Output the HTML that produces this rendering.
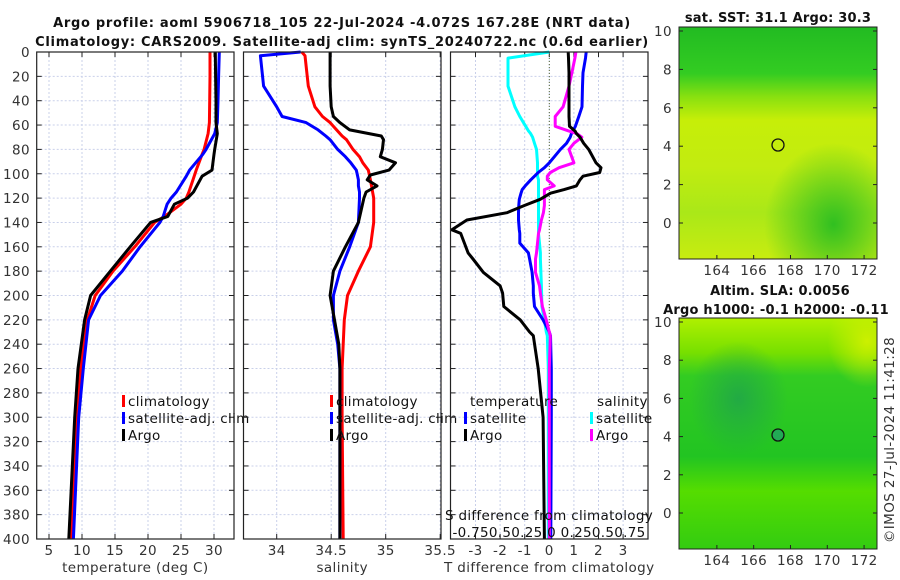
<!DOCTYPE html>
<html><head><meta charset="utf-8"><style>
html,body{margin:0;padding:0;background:#fff}
svg{display:block;font-family:"DejaVu Sans","Liberation Sans",sans-serif}
.tk{font-size:13.5px;fill:#333;letter-spacing:0.4px}
.tt{font-size:13px;font-weight:bold;fill:#111;letter-spacing:0.7px}
.mt{font-size:13px;font-weight:bold;fill:#111;letter-spacing:0.2px}
.lg{font-size:13.5px;fill:#111;letter-spacing:0.3px}
</style></head><body>
<svg id="fig" width="900" height="580" viewBox="0 0 900 580">
<defs>
<linearGradient id="sstG" x1="0" y1="0" x2="0" y2="1">
<stop offset="0" stop-color="#22bb22"/><stop offset="0.2" stop-color="#33cc22"/>
<stop offset="0.3" stop-color="#88e010"/><stop offset="0.4" stop-color="#c6ee08"/>
<stop offset="0.6" stop-color="#c2ec10"/><stop offset="0.8" stop-color="#aae818"/>
<stop offset="1" stop-color="#c8ec10"/></linearGradient>
<radialGradient id="sstB" cx="0.78" cy="0.85" r="0.35"><stop offset="0" stop-color="#22bb22" stop-opacity="0.9"/><stop offset="1" stop-color="#22bb22" stop-opacity="0"/></radialGradient>
<linearGradient id="slaG" x1="0" y1="0" x2="0" y2="1">
<stop offset="0" stop-color="#b0f000"/><stop offset="0.15" stop-color="#77e000"/>
<stop offset="0.25" stop-color="#33cc22"/><stop offset="0.6" stop-color="#22c422"/>
<stop offset="0.75" stop-color="#55dd00"/><stop offset="1" stop-color="#33cc11"/></linearGradient>
<radialGradient id="slaY" cx="0.95" cy="0.1" r="0.2"><stop offset="0" stop-color="#ccf000"/><stop offset="1" stop-color="#ccf000" stop-opacity="0"/></radialGradient>
<radialGradient id="slaD" cx="0.3" cy="0.35" r="0.25"><stop offset="0" stop-color="#22aa44"/><stop offset="1" stop-color="#22aa44" stop-opacity="0"/></radialGradient>
</defs>
<text class="tt" x="342" y="27" text-anchor="middle">Argo profile: aoml 5906718_105 22-Jul-2024 -4.072S 167.28E (NRT data)</text>
<text class="tt" x="342" y="46" text-anchor="middle">Climatology: CARS2009. Satellite-adj clim: synTS_20240722.nc (0.6d earlier)</text>
<g id="p1"></g>
<g id="p2"></g>
<g id="p3"></g>
<g>
<text class="mt" x="778" y="22" text-anchor="middle">sat. SST: 31.1 Argo: 30.3</text>
<rect x="679" y="27" width="198" height="232" fill="url(#sstG)"/>
<rect x="679" y="27" width="198" height="232" fill="url(#sstB)"/>
<rect x="679" y="27" width="198" height="232" fill="none" stroke="#222"/>
<circle cx="778" cy="145" r="6" fill="none" stroke="#111" stroke-width="1.3"/>
</g>
<g>
<text class="mt" x="780" y="295" text-anchor="middle">Altim. SLA: 0.0056</text>
<text class="mt" x="776" y="314" text-anchor="middle">Argo h1000: -0.1 h2000: -0.11</text>
<rect x="679" y="318" width="198" height="231" fill="url(#slaG)"/>
<rect x="679" y="318" width="198" height="231" fill="url(#slaD)"/>
<rect x="679" y="318" width="198" height="231" fill="url(#slaY)"/>
<rect x="679" y="318" width="198" height="231" fill="none" stroke="#222"/>
<circle cx="778" cy="435" r="6" fill="#22aa55" stroke="#111" stroke-width="1.3"/>
</g>
<g id="maxes"></g>
<text class="tk" transform="translate(894,440) rotate(-90)" text-anchor="middle">©IMOS 27-Jul-2024 11:41:28</text>
</svg>
<script>
const depths=[0,5,20,30,45,50,58,65,72,80,86,91,97,101,105,110,115,120,125,132,135,140,146,150,160,170,180,190,200,210,220,230,240,260,280,300,340,400];
// temperature profiles (deg C)
const tDepth=[0,20,40,58,67,80,84,97,102,115,120,125,135,140,160,180,200,220,260,300,400];
const tClim=[29.4,29.4,29.35,29.3,29.1,28.5,28.2,27.3,27.0,26.2,25.8,25.0,22.5,21.0,18.0,14.7,12.0,10.8,9.8,9.3,8.3];
const tSat=[30.8,30.7,30.6,30.5,30.1,28.8,28.3,26.3,25.8,24.3,23.5,22.9,22.3,21.8,18.8,16.1,12.8,11.0,10.2,9.5,8.7];
const tArgo=[30.2,30.25,30.3,30.3,30.5,30.1,30.0,29.7,28.2,26.9,26.0,24.0,23.0,20.4,17.3,14.3,11.3,10.4,9.4,8.9,8.0];
// salinity profiles
const sDepth=[0,3,28,45,53,58,64,69,72,80,86,91,97,101,105,110,115,120,140,160,180,200,220,240,260,300,400];
const sClim=[34.23,34.26,34.29,34.35,34.42,34.49,34.55,34.6,34.64,34.7,34.76,34.79,34.84,34.85,34.86,34.87,34.88,34.89,34.89,34.86,34.75,34.65,34.62,34.61,34.6,34.6,34.61];
const sSat=[34.22,33.85,33.88,34.0,34.05,34.27,34.38,34.45,34.49,34.56,34.63,34.68,34.73,34.74,34.75,34.75,34.76,34.76,34.75,34.67,34.58,34.52,34.52,34.56,34.58,34.58,34.58];
const sArgo=[34.49,34.49,34.49,34.5,34.52,34.58,34.67,34.96,34.98,34.97,34.95,35.09,35.03,34.86,34.83,34.92,34.82,34.8,34.75,34.63,34.52,34.49,34.53,34.57,34.58,34.58,34.58];
// differences from climatology
const dDepth=[0,5,17,28,45,53,61,65,67,70,75,80,91,95,99,102,105,110,113,116,121,126,132,138,146,149,157,165,170,181,192,198,209,220,230,233,260,300,400];
const dTsat=[1.5,1.47,1.37,1.35,1.33,1.2,1.06,0.95,0.9,0.85,0.7,0.45,0.0,-0.2,-0.45,-0.6,-0.75,-0.98,-1.1,-1.15,-1.22,-1.24,-1.25,-1.25,-1.22,-1.2,-1.2,-0.85,-0.8,-0.7,-0.65,-0.65,-0.6,-0.25,0.0,0.05,0.08,0.08,0.06];
const dTargo=[0.77,0.78,0.8,0.8,0.8,0.8,0.82,1.05,1.1,1.25,1.4,1.6,1.9,2.1,2.05,1.37,1.25,1.1,0.6,0.05,-0.37,-1.0,-1.72,-3.35,-3.96,-3.6,-3.45,-3.3,-3.1,-2.68,-2.0,-1.9,-1.85,-1.18,-0.8,-0.65,-0.45,-0.25,-0.2];
const dSsat=[0,-0.42,-0.42,-0.42,-0.35,-0.3,-0.24,-0.21,-0.19,-0.17,-0.15,-0.13,-0.12,-0.12,-0.12,-0.12,-0.11,-0.11,-0.11,-0.11,-0.11,-0.11,-0.11,-0.11,-0.11,-0.11,-0.1,-0.09,-0.09,-0.085,-0.08,-0.078,-0.075,-0.05,-0.03,-0.02,-0.01,-0.01,-0.01];
const dSargo=[0.27,0.26,0.23,0.2,0.14,0.06,0.06,0.2,0.28,0.33,0.25,0.2,0.25,0.1,0.01,-0.02,-0.02,0.05,-0.05,-0.05,-0.05,-0.05,-0.06,-0.08,-0.1,-0.11,-0.12,-0.13,-0.14,-0.14,-0.1,-0.09,-0.07,-0.03,0.0,0.01,0.0,0.0,0.0];
const yTicks=[0,20,40,60,80,100,120,140,160,180,200,220,240,260,280,300,320,340,360,380,400];
const tTicks=[5,10,15,20,25,30];
const sTicks=[34,34.5,35,35.5];
const dTicks=[-3,-2,-1,0,1,2,3];
const sdTickLabel="-0.750.50.25 0 0.250.50.75";
const latTicks=[10,8,6,4,2,0];
const lonTicks=[164,166,168,170,172];

const NS="http://www.w3.org/2000/svg";
function mk(p,tag,at){const e=document.createElementNS(NS,tag);for(const k in at)e.setAttribute(k,at[k]);p.appendChild(e);return e;}
const Y0=52,Y1=539;
const yS=d=>Y0+d*(Y1-Y0)/400;

function panel(g,x0,x1,xS,ticks,lbl,xt,name){
  for(const t of ticks){const x=xS(t);const l=mk(g,'line',{x1:x,x2:x,y1:Y0,y2:Y1,stroke:'#c9d0ea','stroke-dasharray':'2,2'});
    }
  for(const d of yTicks){const y=yS(d);const l=mk(g,'line',{x1:x0,x2:x1,y1:y,y2:y,stroke:'#c9d0ea','stroke-dasharray':'2,2'});
    
    mk(g,'line',{x1:x0,x2:x0+5,y1:y,y2:y,stroke:'#222'});mk(g,'line',{x1:x1-5,x2:x1,y1:y,y2:y,stroke:'#222'});}
  for(const t of ticks){const x=xS(t);mk(g,'line',{x1:x,x2:x,y1:Y1,y2:Y1-5,stroke:'#222'});mk(g,'line',{x1:x,x2:x,y1:Y0,y2:Y0+5,stroke:'#222'});}
  const xl=mk(g,'text',{class:'tk',x:(x0+x1)/2,y:572,'text-anchor':'middle'});xl.textContent=lbl;
  
  if(xt)for(const t of ticks){const e=mk(g,'text',{class:'tk',x:xS(t),y:555,'text-anchor':'middle'});e.textContent=String(t);
    }
}
function frame(g,x0,x1){mk(g,'rect',{x:x0,y:Y0,width:x1-x0,height:Y1-Y0,fill:'none',stroke:'#222','stroke-width':1.2});}
function line(g,xs,ds,xS,col,name){
  const pts=xs.map((v,i)=>xS(v).toFixed(1)+','+yS(ds[i]).toFixed(1)).join(' ');
  const p=mk(g,'polyline',{points:pts,fill:'none',stroke:col,'stroke-width':3,'stroke-linejoin':'round'});
  
}
function legend(g,x,y,col,txt,name){
  mk(g,'rect',{x:x,y:y-6,width:3,height:12,fill:col});
  const t=mk(g,'text',{class:'lg',x:x+6,y:y+5});t.textContent=txt;
  
}
const p1=document.getElementById('p1');
for(const d of yTicks){const e=mk(p1,'text',{class:'tk',x:30,y:yS(d)+5,'text-anchor':'end'});e.textContent=String(d);
  }
const tx=t=>49+(t-5)*6.6;
panel(p1,36.7,234,tx,tTicks,'temperature (deg C)',true,'temp');
line(p1,tClim,tDepth,tx,'#ff0000','temp-climatology-line');
line(p1,tSat,tDepth,tx,'#0000ff','temp-satellite-line');
line(p1,tArgo,tDepth,tx,'#000000','temp-argo-line');
frame(p1,36.7,234);
legend(p1,122,401,'#ff0000','climatology','legend-climatology');
legend(p1,122,418,'#0000ff','satellite-adj. clim','legend-satellite');
legend(p1,122,435,'#000000','Argo','legend-argo');
const p2=document.getElementById('p2');
const sx=s=>276.7+(s-34)*109;
panel(p2,243.5,441,sx,sTicks,'salinity',true,'sal');
line(p2,sClim,sDepth,sx,'#ff0000','sal-climatology-line');
line(p2,sSat,sDepth,sx,'#0000ff','sal-satellite-line');
line(p2,sArgo,sDepth,sx,'#000000','sal-argo-line');
frame(p2,243.5,441);
legend(p2,330,401,'#ff0000','climatology','legend-sal-climatology');
legend(p2,330,418,'#0000ff','satellite-adj. clim','legend-sal-satellite');
legend(p2,330,435,'#000000','Argo','legend-sal-argo');
const p3=document.getElementById('p3');
const dx=t=>549.3+t*24.6, ssx=s=>549.3+s*98.4;
panel(p3,450.5,648,dx,dTicks,'T difference from climatology',true,'diff');
mk(p3,'line',{x1:dx(0),x2:dx(0),y1:Y0,y2:Y1,stroke:'#556633','stroke-dasharray':'1,2'});
line(p3,dSsat,dDepth,ssx,'#00ffff','diff-sal-satellite-line');
line(p3,dTsat,dDepth,dx,'#0000ff','diff-temp-satellite-line');
line(p3,dSargo,dDepth,ssx,'#ff00ff','diff-sal-argo-line');
line(p3,dTargo,dDepth,dx,'#000000','diff-temp-argo-line');
frame(p3,450.5,648);
let e=mk(p3,'text',{class:'lg',x:470,y:406});e.textContent='temperature';

e=mk(p3,'text',{class:'lg',x:597,y:406});e.textContent='salinity';

legend(p3,464,418,'#0000ff','satellite','legend-diff-temp-satellite');
legend(p3,464,435,'#000000','Argo','legend-diff-temp-argo');
legend(p3,590,418,'#00ffff','satellite','legend-diff-sal-satellite');
legend(p3,590,435,'#ff00ff','Argo','legend-diff-sal-argo');
e=mk(p3,'text',{class:'lg',x:549,y:520,'text-anchor':'middle'});e.textContent='S difference from climatology';

e=mk(p3,'text',{class:'lg',x:549,y:537,'text-anchor':'middle'});e.textContent=sdTickLabel;

const mx=g=>681+(g-162.05)*18.4;
const ma=document.getElementById('maxes');
[[27,259,223,19.2],[318,549,513,19.1]].forEach(([top,bot,y0,sc],k)=>{
  for(const la of latTicks){const y=y0-la*sc;
    mk(ma,'line',{x1:679,x2:683,y1:y,y2:y,stroke:'#222'});mk(ma,'line',{x1:873,x2:877,y1:y,y2:y,stroke:'#222'});
    const t=mk(ma,'text',{class:'tk',x:672,y:y+5,'text-anchor':'end'});t.textContent=String(la);
    }
  for(const lo of lonTicks){const x=mx(lo);
    mk(ma,'line',{x1:x,x2:x,y1:bot,y2:bot-4,stroke:'#222'});
    const t=mk(ma,'text',{class:'tk',x:x,y:bot+16,'text-anchor':'middle'});t.textContent=String(lo);
    }
});
</script>
</body></html>
